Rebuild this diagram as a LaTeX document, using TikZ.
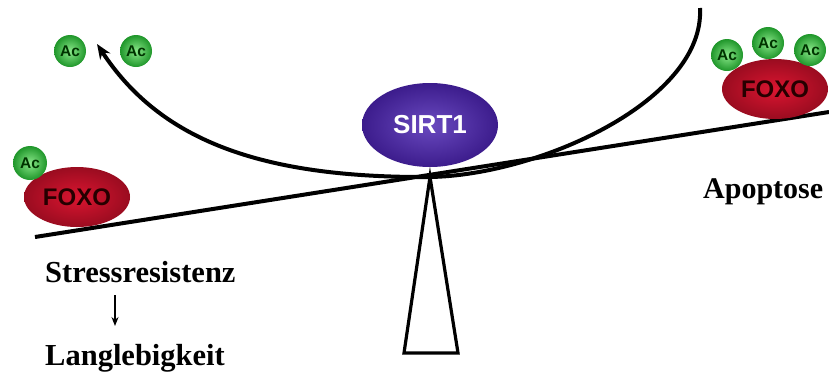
\documentclass[tikz,border=0pt]{standalone}
\usepackage{fontspec}
\setmainfont{Liberation Serif}
\newfontfamily\labsans{Liberation Sans}
\usetikzlibrary{shapes.geometric,arrows.meta}
\definecolor{acin}{HTML}{8AE88A}
\definecolor{acout}{HTML}{1F962A}
\definecolor{foxin}{HTML}{DA1530}
\definecolor{foxout}{HTML}{9A0C20}
\definecolor{sirin}{HTML}{6A4AC0}
\definecolor{sirout}{HTML}{3C1C8C}
\tikzset{
  acball/.style={circle, minimum size=34pt, inner sep=0pt, shading=radial, inner color=acin, outer color=acout, font=\labsans\bfseries\fontsize{15.5}{15.5}\selectfont, text=black!80!green},
  smallac/.style={acball, minimum size=32pt},
  foxo/.style={ellipse, minimum width=106pt, minimum height=60pt, inner sep=0pt, shading=radial, inner color=foxin, outer color=foxout, font=\labsans\bfseries\fontsize{24}{24}\selectfont, text=black!85!red},
  sirt/.style={ellipse, minimum width=136pt, minimum height=84pt, inner sep=0pt, shading=radial, inner color=sirin, outer color=sirout, font=\labsans\bfseries\fontsize{26}{26}\selectfont, text=white},
  lab/.style={font=\bfseries\fontsize{30.5}{30.5}\selectfont, inner sep=0pt, anchor=base west},
  thick line/.style={line width=4pt, black}
}
\begin{document}
\begin{tikzpicture}[x=1pt,y=-1pt]
\useasboundingbox (0,0) rectangle (829,373);
% beam and fulcrum
\coordinate (pivot) at (430,177);
\coordinate (beamL) at (35,237);
\coordinate (beamR) at (829,112);
\coordinate (baseL) at (404,353);
\coordinate (baseR) at (458,353);
\draw[thick line] (beamL) -- (beamR);
\draw[line width=3.2pt, line join=miter] (pivot) -- (baseL) -- (baseR) -- cycle;
% SIRT1
\node[sirt] (sirt) at (430,125) {SIRT1};
% curved arrow
\coordinate (ctop) at (700,8);
\coordinate (ctip) at (97,44);
\draw[thick line, -{Stealth[length=15pt,width=12pt]}] (ctop) .. controls (705,100) and (540,175) .. (pivot) .. controls (260,178) and (160,140) .. (ctip);
% left FOXO
\node[foxo] (foxoL) at (77,197) {FOXO};
\node[acball] (acL) at (30,163) {Ac};
% released Ac
\node[smallac] (ac1) at (70,51) {Ac};
\node[smallac] (ac2) at (136,51) {Ac};
% right FOXO
\node[foxo] (foxoR) at (775,89) {FOXO};
\node[smallac] (acR1) at (727,55) {Ac};
\node[smallac] (acR2) at (768,43) {Ac};
\node[smallac] (acR3) at (810,50) {Ac};
% labels
\node[lab, font=\bfseries\fontsize{30}{30}\selectfont] (apo) at (703,198) {Apoptose};
\node[lab] (stress) at (45,282) {Stressresistenz};
\node[lab] (lang) at (45,365) {Langlebigkeit};
\draw[line width=1.4pt, -{Stealth[length=9pt,width=7pt]}] (115,295) -- (115,326);
\end{tikzpicture}
\end{document}
